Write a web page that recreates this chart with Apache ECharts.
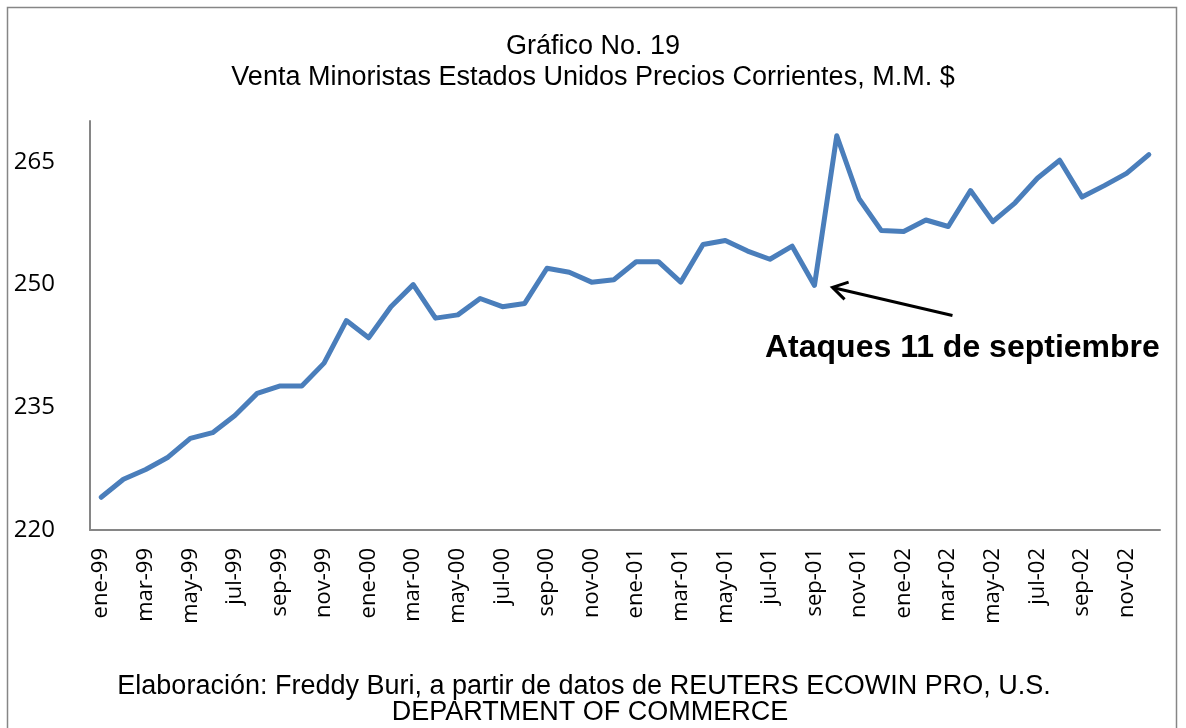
<!DOCTYPE html>
<html>
<head>
<meta charset="utf-8">
<script src="https://cdn.jsdelivr.net/npm/echarts@6/dist/echarts.min.js"></script>
<style>
  html, body { margin: 0; padding: 0; background: #fff; }
  #chart { width: 1186px; height: 728px; }
</style>
</head>
<body>
<div id="chart"></div>
<script>
// meses ene-99 .. dic-02
var meses = ['ene','feb','mar','abr','may','jun','jul','ago','sep','oct','nov','dic'];
var anios = ['99','00','01','02'];
var categorias = [];
anios.forEach(function (a) {
    meses.forEach(function (m) { categorias.push(m + '-' + a); });
});

// ventas minoristas, miles de millones $
var ventas = [
    224.0, 226.2, 227.4, 228.9, 231.2, 231.9, 234.0, 236.7, 237.6, 237.6, 240.4, 245.6,
    243.5, 247.3, 250.0, 245.9, 246.3, 248.3, 247.3, 247.7, 252.0, 251.5, 250.3, 250.6,
    252.8, 252.8, 250.3, 254.9, 255.4, 254.1, 253.1, 254.7, 249.9, 268.2, 260.5, 256.6,
    256.5, 257.9, 257.1, 261.5, 257.7, 260.0, 263.0, 265.2, 260.7, 262.1, 263.6, 265.9
];

var yMin = 220, yMax = 270, yPaso = 15;
var evento = 'sep-01';

var myChart = echarts.init(document.getElementById('chart'));

var texto = { fontFamily: 'Liberation Sans', fontSize: 27, fontWeight: 'normal', color: '#000' };

var option = {
    backgroundColor: '#fff',
    animation: false,
    title: [{
        text: 'Gráfico No. 19',
        left: 'center',
        top: 28,
        textStyle: texto
    }, {
        text: 'Venta Minoristas Estados Unidos Precios Corrientes, M.M. $',
        left: 'center',
        top: 59,
        textStyle: texto
    }, {
        text: 'Elaboración: Freddy Buri, a partir de datos de REUTERS ECOWIN PRO, U.S.',
        left: 579,
        textAlign: 'center',
        top: 668,
        textStyle: texto
    }, {
        text: 'DEPARTMENT OF COMMERCE',
        left: 585,
        textAlign: 'center',
        top: 694,
        textStyle: texto
    }],
    grid: {
        left: 90,
        right: 26,
        top: 121,
        bottom: 198
    },
    xAxis: {
        type: 'category',
        data: categorias,
        boundaryGap: true,
        axisLine: { lineStyle: { color: '#868686', width: 2 } },
        axisTick: { show: false },
        axisLabel: {
            interval: 1,
            rotate: 90,
            margin: 18,
            fontFamily: 'Open Sans',
            fontSize: 22,
            color: '#000'
        },
        splitLine: { show: false }
    },
    yAxis: {
        type: 'value',
        min: yMin,
        max: yMax,
        interval: yPaso,
        axisLine: { show: true, lineStyle: { color: '#868686', width: 2 } },
        axisTick: { show: false },
        splitLine: { show: false },
        axisLabel: {
            showMaxLabel: false,
            margin: 35,
            fontFamily: 'Open Sans',
            fontSize: 24,
            color: '#000'
        }
    },
    series: [{
        type: 'line',
        data: ventas,
        showSymbol: false,
        symbol: 'none',
        lineStyle: { color: '#4a7ebb', width: 5, join: 'round', cap: 'round' }
    }]
};

myChart.setOption(option);

// flecha y texto del 11 de septiembre
var p = myChart.convertToPixel({ gridIndex: 0 }, [evento, ventas[categorias.indexOf(evento)]]);
var punta = [p[0] + 18, p[1] + 2];
var cola = [p[0] + 138, p[1] + 30];
var ang = Math.atan2(cola[1] - punta[1], cola[0] - punta[0]);
var largo = 17, abre = 0.55;
myChart.setOption({
    graphic: [{
        type: 'rect',
        shape: { x: 7.5, y: 7.5, width: 1169, height: 760 },
        style: { fill: 'none', stroke: '#868686', lineWidth: 1.5 },
        silent: true
    }, {
        type: 'line',
        shape: { x1: cola[0], y1: cola[1], x2: punta[0], y2: punta[1] },
        style: { stroke: '#000', lineWidth: 3 }
    }, {
        type: 'polyline',
        shape: {
            points: [
                [punta[0] + largo * Math.cos(ang - abre), punta[1] + largo * Math.sin(ang - abre)],
                punta,
                [punta[0] + largo * Math.cos(ang + abre), punta[1] + largo * Math.sin(ang + abre)]
            ]
        },
        style: { stroke: '#000', lineWidth: 3, fill: 'none' }
    }, {
        type: 'text',
        left: 765,
        top: 332,
        style: {
            text: 'Ataques 11 de septiembre',
            font: 'bold 32px "Liberation Sans"',
            fill: '#000'
        }
    }]
});

window.addEventListener('resize', function () {
    myChart.resize();
});
</script>
</body>
</html>
